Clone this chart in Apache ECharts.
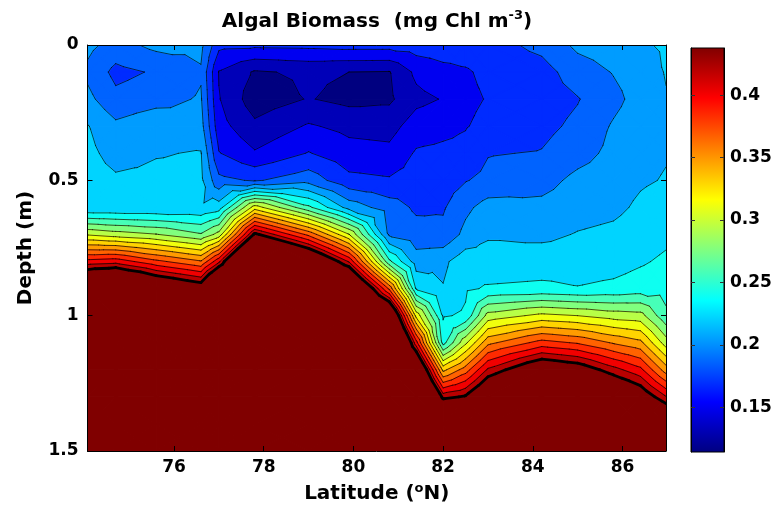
<!DOCTYPE html>
<html><head><meta charset="utf-8">
<script src="https://cdn.jsdelivr.net/npm/echarts@6/dist/echarts.min.js"></script>
<style>html,body{margin:0;padding:0;background:#fff}#c{width:775px;height:509px}</style>
</head><body><div id="c"></div>
<script>
// ---- data ----
const latitudes = [74.07, 74.7, 75.6, 76.6, 77.0, 77.8, 79.0, 79.9, 80.8, 81.4, 82.0, 82.5, 83.0, 84.2, 85.0, 85.8, 86.4, 86.97];
const depths = [0, 0.1, 0.2, 0.3, 0.4, 0.5, 0.6, 0.7, 0.8, 0.9, 1.0, 1.1, 1.2, 1.3, 1.4, 1.5];
// chlorophyll profiles (mg Chl m-3), one row per latitude, values at the depths above
const chl = [
  [0.209,0.200,0.209,0.223,0.227,0.231,0.223,0.310,0.409,0.506,0.582,0.582,0.582,0.582,0.582,0.582],
  [0.197,0.181,0.191,0.208,0.215,0.225,0.223,0.303,0.413,0.526,0.582,0.582,0.582,0.582,0.582,0.582],
  [0.209,0.188,0.197,0.218,0.221,0.226,0.223,0.295,0.389,0.483,0.546,0.582,0.582,0.582,0.582,0.582],
  [0.209,0.202,0.206,0.211,0.223,0.226,0.224,0.278,0.368,0.458,0.510,0.546,0.582,0.582,0.582,0.582],
  [0.173,0.149,0.151,0.157,0.169,0.191,0.231,0.301,0.416,0.533,0.582,0.582,0.582,0.582,0.582,0.582],
  [0.172,0.130,0.122,0.136,0.152,0.184,0.321,0.443,0.564,0.582,0.582,0.582,0.582,0.582,0.582,0.582],
  [0.173,0.135,0.133,0.152,0.169,0.197,0.262,0.379,0.494,0.564,0.582,0.582,0.582,0.582,0.582,0.582],
  [0.175,0.132,0.127,0.145,0.157,0.173,0.215,0.313,0.418,0.524,0.582,0.582,0.582,0.582,0.582,0.582],
  [0.175,0.131,0.129,0.143,0.155,0.170,0.195,0.201,0.262,0.380,0.499,0.564,0.582,0.582,0.582,0.582],
  [0.177,0.154,0.145,0.159,0.170,0.175,0.183,0.193,0.213,0.238,0.324,0.409,0.499,0.564,0.582,0.582],
  [0.177,0.163,0.151,0.163,0.172,0.177,0.184,0.191,0.218,0.223,0.238,0.251,0.343,0.431,0.528,0.564],
  [0.177,0.166,0.164,0.167,0.173,0.185,0.200,0.209,0.233,0.237,0.243,0.308,0.375,0.441,0.528,0.564],
  [0.179,0.172,0.169,0.173,0.185,0.191,0.211,0.220,0.229,0.242,0.301,0.361,0.423,0.481,0.546,0.564],
  [0.191,0.179,0.177,0.181,0.187,0.197,0.209,0.218,0.231,0.244,0.317,0.391,0.469,0.528,0.564,0.582],
  [0.208,0.195,0.185,0.190,0.197,0.209,0.215,0.223,0.231,0.241,0.312,0.382,0.456,0.510,0.564,0.582],
  [0.213,0.205,0.199,0.206,0.209,0.214,0.218,0.226,0.233,0.244,0.304,0.364,0.427,0.485,0.546,0.582],
  [0.220,0.213,0.211,0.215,0.218,0.220,0.225,0.231,0.238,0.248,0.301,0.353,0.407,0.460,0.528,0.582],
  [0.224,0.223,0.221,0.221,0.221,0.223,0.229,0.236,0.243,0.251,0.262,0.303,0.357,0.421,0.490,0.546]
];
const contourLevels = [0.114,0.132,0.150,0.168,0.186,0.204,0.222,0.240,0.258,0.276,0.294,0.312,0.330,0.348,0.366,0.384,0.402,0.420,0.438];
const colorLimits = [0.114, 0.438];
const latTicks = [76, 78, 80, 82, 84, 86];
const colorbarTicks = [0.15, 0.2, 0.25, 0.3, 0.35, 0.4];

// ---- helpers ----
const F = 'DejaVu Sans';
function clamp01(x){ return Math.max(0, Math.min(1, x)); }
function jet(t){
  t = clamp01(t);
  const r = clamp01(1.5 - Math.abs(4*t - 3));
  const g = clamp01(1.5 - Math.abs(4*t - 2));
  const b = clamp01(1.5 - Math.abs(4*t - 1));
  return 'rgb(' + Math.round(r*255) + ',' + Math.round(g*255) + ',' + Math.round(b*255) + ')';
}
function levelColor(v){ return jet((v - colorLimits[0]) / (colorLimits[1] - colorLimits[0])); }
function lerpPt(a, b, L){
  const t = (L - a.v) / (b.v - a.v);
  return {x: a.x + (b.x - a.x)*t, y: a.y + (b.y - a.y)*t, v: L};
}
function clipPoly(poly, L, keepAbove){
  const out = [];
  const n = poly.length;
  for (let k = 0; k < n; k++){
    const a = poly[k], b = poly[(k+1) % n];
    const ina = keepAbove ? a.v >= L : a.v <= L;
    const inb = keepAbove ? b.v >= L : b.v <= L;
    if (ina) out.push(a);
    if (ina !== inb) out.push(lerpPt(a, b, L));
  }
  return out;
}
function cellTriangles(i, j){
  const c = [[i,j],[i+1,j],[i+1,j+1],[i,j+1]].map(function(p){
    return {x: latitudes[p[0]], y: depths[p[1]], v: chl[p[0]][p[1]]};
  });
  const m = {x:(c[0].x+c[1].x)/2, y:(c[0].y+c[3].y)/2, v:(c[0].v+c[1].v+c[2].v+c[3].v)/4};
  return [[c[0],c[1],m],[c[1],c[2],m],[c[2],c[3],m],[c[3],c[0],m]];
}
const cells = [];
for (let i = 0; i < latitudes.length - 1; i++){
  for (let j = 0; j < depths.length - 1; j++){
    cells.push([latitudes[i], depths[j], i, j]);
  }
}
const nL = contourLevels.length;

function renderFill(params, api){
  const tris = cellTriangles(api.value(2), api.value(3));
  const children = [];
  tris.forEach(function(tri){
    for (let k = -1; k < nL; k++){
      let poly = tri;
      if (k >= 0) poly = clipPoly(poly, contourLevels[k], true);
      if (poly.length >= 3 && k < nL - 1) poly = clipPoly(poly, contourLevels[k+1], false);
      if (poly.length < 3) continue;
      const col = levelColor(k >= 0 ? contourLevels[k] : colorLimits[0]);
      children.push({
        type: 'polygon', silent: true,
        shape: {points: poly.map(function(p){ return api.coord([p.x, p.y]); })},
        style: {fill: col, stroke: col, lineWidth: 1.3, lineJoin: 'round'}
      });
    }
  });
  return {type: 'group', children: children};
}
function renderLines(params, api){
  const tris = cellTriangles(api.value(2), api.value(3));
  const children = [];
  tris.forEach(function(tri){
    for (let k = 0; k < nL; k++){
      const L = contourLevels[k];
      const pts = [];
      for (let e = 0; e < 3; e++){
        const a = tri[e], b = tri[(e+1)%3];
        if ((a.v >= L) !== (b.v >= L)) pts.push(lerpPt(a, b, L));
      }
      if (pts.length === 2){
        const p1 = api.coord([pts[0].x, pts[0].y]), p2 = api.coord([pts[1].x, pts[1].y]);
        const last = (k === nL - 1);
        children.push({
          type: 'line', silent: true,
          shape: {x1: p1[0], y1: p1[1], x2: p2[0], y2: p2[1]},
          style: {stroke: '#000', lineWidth: last ? 2.8 : 0.8, lineCap: 'round', opacity: last ? 1 : 0.85}
        });
      }
    }
  });
  return {type: 'group', children: children};
}
function renderColorbar(params, api){
  const p0 = api.coord([0, colorLimits[0]]);
  const p1 = api.coord([1, colorLimits[1]]);
  const stops = [];
  for (let s = 0; s <= 16; s++){ stops.push({offset: s/16, color: jet(s/16)}); }
  return {
    type: 'rect', silent: true,
    shape: {x: p0[0], y: p1[1], width: p1[0] - p0[0], height: p0[1] - p1[1]},
    style: {fill: new echarts.graphic.LinearGradient(0, 1, 0, 0, stops), stroke: '#000', lineWidth: 1}
  };
}

const tickFont = {color: '#000', fontFamily: F, fontWeight: 'bold', fontSize: 17};
const lineBlack = {show: true, onZero: false, lineStyle: {color: '#000', width: 1}};
const latMin = latitudes[0], latMax = latitudes[latitudes.length - 1];

const option = {
  animation: false,
  backgroundColor: '#fff',
  grid: [
    {left: 87.5, right: 109, top: 45, bottom: 57},
    {left: 691, right: 51, top: 48, bottom: 57}
  ],
  graphic: [{
    type: 'text', x: 377, y: 22, z: 20,
    style: {
      text: '{t|Algal Biomass  (mg Chl m}{s|-3}{t|)}',
      align: 'center', verticalAlign: 'middle',
      rich: {
        t: {fontFamily: F, fontWeight: 'bold', fontSize: 20, fill: '#000', lineHeight: 26},
        s: {fontFamily: F, fontWeight: 'bold', fontSize: 13, fill: '#000', verticalAlign: 'top', lineHeight: 14}
      }
    }
  }],
  xAxis: [
    {type: 'value', gridIndex: 0, position: 'bottom', min: latMin, max: latMax, z: 10,
     axisLine: lineBlack,
     axisTick: {show: true, inside: true, length: 5, customValues: latTicks, lineStyle: {color: '#000'}},
     axisLabel: Object.assign({show: true, customValues: latTicks, margin: 8}, tickFont),
     splitLine: {show: false},
     name: '{t|Latitude (}{s|o}{t|N)}', nameLocation: 'middle', nameGap: 31,
     nameTextStyle: {rich: {
       t: {fontFamily: F, fontWeight: 'bold', fontSize: 20, color: '#000', lineHeight: 24},
       s: {fontFamily: F, fontWeight: 'bold', fontSize: 13, color: '#000', verticalAlign: 'top', lineHeight: 14}
     }}},
    {type: 'value', gridIndex: 0, position: 'top', min: latMin, max: latMax, z: 10,
     axisLine: lineBlack,
     axisTick: {show: true, inside: true, length: 5, customValues: latTicks, lineStyle: {color: '#000'}},
     axisLabel: {show: false}, splitLine: {show: false}},
    {type: 'value', gridIndex: 1, min: 0, max: 1, show: false}
  ],
  yAxis: [
    {type: 'value', gridIndex: 0, position: 'left', inverse: true, min: 0, max: 1.5, interval: 0.5, z: 10,
     axisLine: lineBlack,
     axisTick: {show: true, inside: true, length: 5, lineStyle: {color: '#000'}},
     axisLabel: Object.assign({show: true, margin: 9}, tickFont),
     splitLine: {show: false},
     name: 'Depth (m)', nameLocation: 'middle', nameGap: 52, nameRotate: 90,
     nameTextStyle: {fontFamily: F, fontWeight: 'bold', fontSize: 20, color: '#000'}},
    {type: 'value', gridIndex: 0, position: 'right', inverse: true, min: 0, max: 1.5, interval: 0.5, z: 10,
     axisLine: lineBlack,
     axisTick: {show: true, inside: true, length: 5, lineStyle: {color: '#000'}},
     axisLabel: {show: false}, splitLine: {show: false}},
    {type: 'value', gridIndex: 1, position: 'right', min: colorLimits[0], max: colorLimits[1], z: 10,
     axisLine: lineBlack,
     axisTick: {show: true, inside: true, length: 4, customValues: colorbarTicks, lineStyle: {color: '#333'}},
     axisLabel: Object.assign({show: true, customValues: colorbarTicks, margin: 6}, tickFont),
     splitLine: {show: false}},
    {type: 'value', gridIndex: 1, position: 'left', min: colorLimits[0], max: colorLimits[1], z: 10,
     axisLine: lineBlack,
     axisTick: {show: true, inside: true, length: 4, customValues: colorbarTicks, lineStyle: {color: '#333'}},
     axisLabel: {show: false}, splitLine: {show: false}}
  ],
  series: [
    {type: 'custom', xAxisIndex: 0, yAxisIndex: 0, data: cells, encode: {x: 0, y: 1},
     renderItem: renderFill, clip: true, z: 2, silent: true},
    {type: 'custom', xAxisIndex: 0, yAxisIndex: 0, data: cells, encode: {x: 0, y: 1},
     renderItem: renderLines, clip: true, z: 3, silent: true},
    {type: 'custom', xAxisIndex: 2, yAxisIndex: 2, data: [[0.5, 0.3]], encode: {x: 0, y: 1},
     renderItem: renderColorbar, clip: false, z: 2, silent: true}
  ]
};
const chart = echarts.init(document.getElementById('c'), null, {renderer: 'canvas'});
chart.setOption(option);
</script>
</body></html>
